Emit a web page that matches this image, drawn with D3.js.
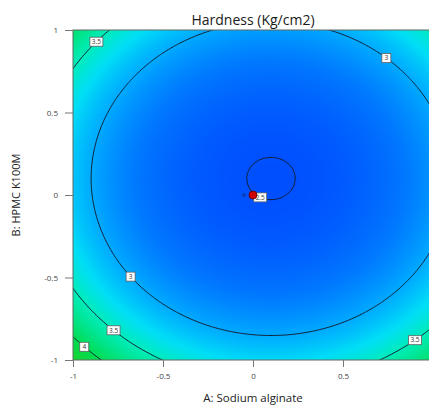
<!DOCTYPE html>
<html>
<head>
<meta charset="utf-8">
<script src="https://cdn.jsdelivr.net/npm/d3@7"></script>
<style>
  body { margin: 0; background: #fff; overflow: hidden; }
  svg { display: block; font-family: "Open Sans", "Noto Sans", sans-serif; }
</style>
</head>
<body>
<div id="chart"></div>
<script>
// coded factor ranges and ticks (the x tick at 1 falls outside the window)
const factorA = [-1, 1];
const factorB = [-1, 1];
const xTicks = [-1, -0.5, 0, 0.5];
const yTicks = [-1, -0.5, 0, 0.5, 1];

// fitted model (inverse transform): 1/Hardness = b0 + bA*A + bB*B + bAB*A*B + bAA*A^2 + bBB*B^2
const coefficients = [0.3998, 0.0136, 0.0150, 0.0, -0.068, -0.075];
const contourLevels = [2.5, 3, 3.5, 4];

// design points
const designA = [0];
const designB = [0];
const designReps = [6];

// where the contour labels sit (roughly), snapped onto the line later
const labelHints = [
  {level: 3.5, a: -0.89, b: 0.94},
  {level: 3, a: 0.75, b: 0.84},
  {level: 3, a: -0.67, b: -0.485},
  {level: 3.5, a: -0.77, b: -0.81},
  {level: 4, a: -0.93, b: -0.915},
  {level: 3.5, a: 0.91, b: -0.90},
  {level: 2.5, a: 0.05, b: 0.0}
];

const width = 429, height = 406;
const plot = {left: 73, top: 30, w: 360, h: 330};

function hardness(a, b) {
  const [b0, bA, bB, bAB, bAA, bBB] = coefficients;
  return 1 / (b0 + bA * a + bB * b + bAB * a * b + bAA * a * a + bBB * b * b);
}

const x = d3.scaleLinear().domain(factorA).range([plot.left, plot.left + plot.w]);
const y = d3.scaleLinear().domain(factorB).range([plot.top + plot.h, plot.top]);

const color = d3.scaleLinear()
  .domain([2.45, 2.75, 3.0, 3.25, 3.5, 4.0, 4.5])
  .range(["#0048ff", "#0078ff", "#00aaff", "#00def6", "#00ecba", "#00dc52", "#22d020"])
  .clamp(true);

const svg = d3.select("#chart").append("svg")
  .attr("width", width)
  .attr("height", height);

svg.append("defs").append("clipPath").attr("id", "plotclip")
  .append("rect")
  .attr("x", plot.left).attr("y", plot.top)
  .attr("width", plot.w).attr("height", plot.h);

// filled background
const cnv = document.createElement("canvas");
cnv.width = plot.w;
cnv.height = plot.h;
const ctx = cnv.getContext("2d");
const img = ctx.createImageData(plot.w, plot.h);
for (let py = 0; py < plot.h; py++) {
  const b = y.invert(plot.top + py + 0.5);
  for (let px = 0; px < plot.w; px++) {
    const a = x.invert(plot.left + px + 0.5);
    const c = d3.rgb(color(hardness(a, b)));
    const k = (py * plot.w + px) * 4;
    img.data[k] = c.r; img.data[k + 1] = c.g; img.data[k + 2] = c.b; img.data[k + 3] = 255;
  }
}
ctx.putImageData(img, 0, 0);

svg.append("image")
  .attr("x", plot.left).attr("y", plot.top)
  .attr("width", plot.w).attr("height", plot.h)
  .attr("preserveAspectRatio", "none")
  .attr("href", cnv.toDataURL());

// contour lines on a slightly larger grid, clipped to the plot
const ext = 1.1, step = 0.01;
const n = Math.round(2 * ext / step) + 1;
const grid = new Array(n * n);
for (let j = 0; j < n; j++) {
  for (let i = 0; i < n; i++) {
    grid[j * n + i] = hardness(-ext + i * step, ext - j * step);
  }
}
const toA = u => -ext + (u - 0.5) * step;
const toB = v => ext - (v - 0.5) * step;
const contours = d3.contours().size([n, n]).thresholds(contourLevels)(grid);

const path = d3.geoPath(d3.geoTransform({
  point(u, v) { this.stream.point(x(toA(u)), y(toB(v))); }
}));

const lines = svg.append("g").attr("clip-path", "url(#plotclip)");
lines.selectAll("path")
  .data(contours)
  .join("path")
  .attr("d", path)
  .attr("fill", "none")
  .attr("stroke", "#121f33")
  .attr("stroke-width", 1);

// plot frame
svg.append("rect")
  .attr("x", plot.left).attr("y", plot.top)
  .attr("width", plot.w).attr("height", plot.h)
  .attr("fill", "none")
  .attr("stroke", "#5e6a66")
  .attr("stroke-width", 1);

// contour labels
const labels = svg.append("g").attr("clip-path", "url(#plotclip)");
labelHints.forEach(h => {
  const c = contours.find(d => d.value === h.level);
  let best = null, bestD = Infinity;
  c.coordinates.forEach(poly => poly.forEach(ring => ring.forEach(([u, v]) => {
    const da = toA(u) - h.a, db = toB(v) - h.b;
    const d = da * da + db * db;
    if (d < bestD) { bestD = d; best = [toA(u), toB(v)]; }
  })));
  const txt = String(h.level);
  const bw = txt.length > 1 ? 13 : 9, bh = 9;
  const g = labels.append("g")
    .attr("transform", `translate(${x(best[0])},${y(best[1])})`);
  g.append("rect")
    .attr("x", -bw / 2).attr("y", -bh / 2)
    .attr("width", bw).attr("height", bh)
    .attr("fill", "#fff")
    .attr("stroke", "#5f5f5f")
    .attr("stroke-width", 0.8);
  g.append("text")
    .attr("text-anchor", "middle")
    .attr("dy", "0.35em")
    .attr("font-size", 6.5)
    .attr("fill", "#333")
    .text(txt);
});

// design points
const pts = svg.append("g");
designA.forEach((a, i) => {
  pts.append("circle")
    .attr("cx", x(a)).attr("cy", y(designB[i]))
    .attr("r", 4)
    .attr("fill", "#d00000")
    .attr("stroke", "#5a0000")
    .attr("stroke-width", 0.8);
  pts.append("text")
    .attr("x", x(a) - 7).attr("y", y(designB[i]) + 2)
    .attr("text-anchor", "end")
    .attr("font-size", 6)
    .attr("fill", "#1a1a1a")
    .text(designReps[i]);
});

// axes
const fmt = d => String(d);
const yAxis = svg.append("g")
  .attr("transform", `translate(${plot.left},0)`)
  .call(d3.axisLeft(y).tickValues(yTicks).tickFormat(fmt).tickSize(8).tickPadding(7));
const xAxis = svg.append("g")
  .attr("transform", `translate(0,${plot.top + plot.h})`)
  .call(d3.axisBottom(x).tickValues(xTicks).tickFormat(fmt).tickSize(7).tickPadding(6));
[yAxis, xAxis].forEach(ax => {
  ax.select(".domain").remove();
  ax.selectAll(".tick line").attr("stroke", "#777");
  ax.selectAll(".tick text")
    .attr("fill", "#444")
    .attr("font-size", 8)
    .attr("font-family", "'Open Sans', sans-serif");
});

svg.append("text")
  .attr("x", x(0)).attr("y", 25)
  .attr("text-anchor", "middle")
  .attr("font-size", 14)
  .attr("fill", "#1a1a1a")
  .text("Hardness (Kg/cm2)");

svg.append("text")
  .attr("x", x(0)).attr("y", 402)
  .attr("text-anchor", "middle")
  .attr("font-size", 11.5)
  .attr("fill", "#222")
  .text("A: Sodium alginate");

svg.append("text")
  .attr("transform", `translate(20,${y(0)}) rotate(-90)`)
  .attr("text-anchor", "middle")
  .attr("font-size", 11)
  .attr("fill", "#222")
  .text("B: HPMC K100M");
</script>
</body>
</html>
